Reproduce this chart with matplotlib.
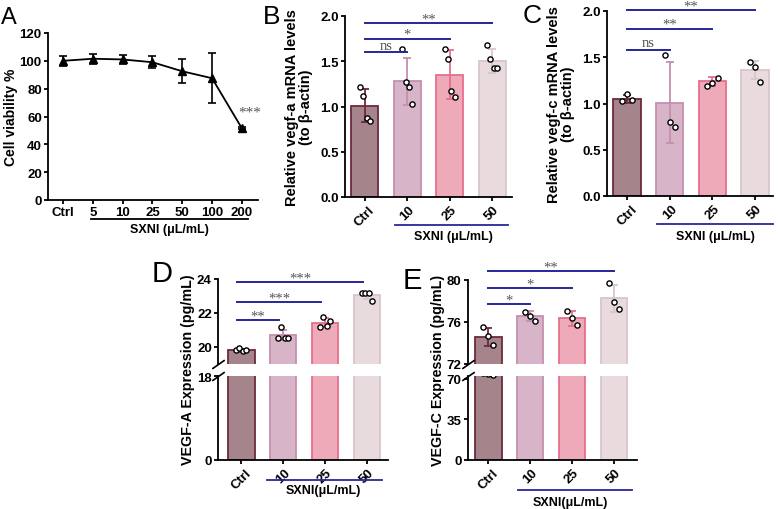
import numpy as np
import matplotlib.pyplot as plt

plt.rcParams['font.family'] = ['Liberation Sans', 'DejaVu Sans']
plt.rcParams['font.weight'] = 'bold'
plt.rcParams['axes.linewidth'] = 1.3
plt.rcParams['xtick.major.width'] = 1.3
plt.rcParams['ytick.major.width'] = 1.3
plt.rcParams['xtick.major.size'] = 3
plt.rcParams['ytick.major.size'] = 3
plt.rcParams['xtick.major.pad'] = 1.5
plt.rcParams['ytick.major.pad'] = 1.5

W, H = 778, 510

# panel A - cell viability
doses_a = ['Ctrl', '5', '10', '25', '50', '100', '200']
viability = [100, 101.5, 101, 99, 92.5, 87.5, 51.5]
viability_sd = [3.5, 3.5, 3.5, 4.5, 8.5, 18, 0.8]

groups = ['Ctrl', '10', '25', '50']

# panel B - vegf-a mRNA
vegfa_mean = [1.01, 1.28, 1.35, 1.50]
vegfa_sd = [0.18, 0.26, 0.27, 0.13]
vegfa_pts = [[1.21, 1.12, 0.87, 0.84], [1.64, 1.27, 1.22, 1.03],
             [1.64, 1.53, 1.17, 1.11], [1.68, 1.53, 1.42, 1.42]]
vegfa_sig = [(1, 'ns', 1.60), (2, '*', 1.75), (3, '**', 1.92)]

# panel C - vegf-c mRNA
vegfc_mean = [1.05, 1.01, 1.24, 1.36]
vegfc_sd = [0.04, 0.44, 0.05, 0.10]
vegfc_pts = [[1.03, 1.10, 1.04], [1.52, 0.80, 0.75],
             [1.19, 1.22, 1.28], [1.45, 1.40, 1.23]]
vegfc_sig = [(1, 'ns', 1.58), (2, '**', 1.81), (3, '**', 2.01)]

# panel D - VEGF-A protein
vega_mean = [19.8, 20.7, 21.44, 23.05]
vega_sd = [0.1, 0.3, 0.27, 0.2]
vega_pts = [[19.84, 19.92, 19.78, 19.82], [20.53, 21.2, 20.53, 20.55],
            [21.2, 21.75, 21.25, 21.55], [23.2, 23.2, 23.2, 22.7]]
vega_sig = [(1, '**', 21.6), (2, '***', 22.65), (3, '***', 23.8)]

# panel E - VEGF-C protein
vegc_mean = [74.6, 76.55, 76.35, 78.25]
vegc_sd = [0.85, 0.5, 0.7, 1.3]
vegc_pts = [[75.5, 74.7, 73.85], [77.0, 76.6, 76.05],
            [77.05, 76.35, 75.7], [79.7, 77.9, 77.25]]
vegc_sig = [(1, '*', 77.7), (2, '*', 79.2), (3, '**', 80.86)]

fills = ['#a5848b', '#d8b4c8', '#eeaab8', '#e8dadd']
edges = ['#6d2a3c', '#c48fae', '#e56f8b', '#d9c6ca']
navy = '#26269a'
star_gray = '#555555'
SERIF = ['Liberation Serif', 'DejaVu Serif']

fig = plt.figure(figsize=(W / 100, H / 100), dpi=100)


def add_axes_px(l, t, r, b):
    return fig.add_axes([l / W, 1 - b / H, (r - l) / W, (b - t) / H])


def style(ax, fs=9.5):
    ax.spines['top'].set_visible(False)
    ax.spines['right'].set_visible(False)
    ax.tick_params(labelsize=fs, direction='out')
    for lab in ax.get_yticklabels() + ax.get_xticklabels():
        lab.set_fontweight('bold')


def jitter(n):
    if n == 3:
        return [-0.12, 0.0, 0.12]
    return [-0.12, -0.04, 0.04, 0.12]


def draw_bars(ax, means, sds, pts):
    x = np.arange(len(means))
    ax.bar(x, means, width=0.64, color=fills, edgecolor=edges, linewidth=1.3, zorder=2)
    for i in range(len(means)):
        ax.errorbar(x[i], means[i], yerr=sds[i], color=edges[i], capsize=3,
                    elinewidth=1.3, capthick=1.3, zorder=3)
        ax.scatter(x[i] + np.array(jitter(len(pts[i]))), pts[i], s=14, facecolor='white',
                   edgecolor='black', linewidth=1.0, zorder=4)


def draw_sig(ax, sig, x0=0.0, fs=10.5):
    for j, lab, y in sig:
        ax.plot([x0, j + x0], [y, y], color=navy, lw=1.4, clip_on=False, zorder=5)
        dy = 2.5 if lab == 'ns' else 0.5
        ax.annotate(lab, (j / 2 + x0, y), xytext=(0, dy), textcoords='offset points',
                    ha='center', va='baseline', color=star_gray, family=SERIF,
                    fontweight='normal', fontsize=fs, annotation_clip=False)


def group_label(ax, x0, x1, y, xt, yt, text, color=navy, fs=9):
    tr = ax.get_xaxis_transform()
    ax.plot([x0, x1], [y, y], color=color, lw=1.3, transform=tr, clip_on=False)
    ax.text(xt, yt, text, transform=tr, ha='center', va='center',
            fontsize=fs, fontweight='bold')


# ---- A ----
axA = add_axes_px(48, 34, 258, 201)
xa = np.arange(len(doses_a))
axA.errorbar(xa, viability, yerr=viability_sd, color='black', marker='^', ms=6,
             lw=1.3, capsize=3, elinewidth=1.2, capthick=1.2)
axA.set_xlim(-0.5, 6.54)
axA.set_ylim(0, 120)
axA.set_yticks(range(0, 121, 20))
axA.set_xticks(xa)
axA.set_xticklabels(doses_a)
axA.set_ylabel('Cell viability %', fontsize=10, fontweight='bold', labelpad=1)
axA.text(6.25, 63, '***', ha='center', va='center', color=star_gray,
         family=SERIF, fontweight='normal', fontsize=11, clip_on=False)
style(axA)
group_label(axA, 0.94, 6.2, -0.114, 3.57, -0.175, 'SXNI (\u03bcL/mL)', color='black')

# ---- B ----
axB = add_axes_px(345, 17, 512, 198)
draw_bars(axB, vegfa_mean, vegfa_sd, vegfa_pts)
draw_sig(axB, vegfa_sig)
axB.set_xlim(-0.47, 3.47)
axB.set_ylim(0, 2.0)
axB.set_yticks([0, 0.5, 1.0, 1.5, 2.0])
axB.set_yticklabels(['0.0', '0.5', '1.0', '1.5', '2.0'])
axB.set_xticks(range(4))
axB.set_xticklabels(groups, rotation=45)
axB.set_ylabel('Relative vegf-a mRNA levels\n(to \u03b2-actin)', fontsize=10.5,
               fontweight='bold', linespacing=1.0, labelpad=5)
style(axB)
group_label(axB, 0.71, 3.38, -0.155, 2.08, -0.215, 'SXNI (\u03bcL/mL)')

# ---- C ----
axC = add_axes_px(607, 12, 773, 197)
draw_bars(axC, vegfc_mean, vegfc_sd, vegfc_pts)
draw_sig(axC, vegfc_sig)
axC.set_xlim(-0.47, 3.42)
axC.set_ylim(0, 2.0)
axC.set_yticks([0, 0.5, 1.0, 1.5, 2.0])
axC.set_yticklabels(['0.0', '0.5', '1.0', '1.5', '2.0'])
axC.set_xticks(range(4))
axC.set_xticklabels(groups, rotation=45)
axC.set_ylabel('Relative vegf-c mRNA levels\n(to \u03b2-actin)', fontsize=10.5,
               fontweight='bold', linespacing=1.0, labelpad=5)
style(axC)
group_label(axC, 0.70, 3.42, -0.151, 2.06, -0.216, 'SXNI (\u03bcL/mL)')


# ---- broken-axis panels D and E ----
def broken_panel(l, r, top_t, top_b, bot_t, bot_b, top_lim, bot_lim, top_ticks, bot_ticks,
                 means, sds, pts, sig, xlim, sig_x0=0.0):
    axt = add_axes_px(l, top_t, r, top_b)
    axb = add_axes_px(l, bot_t, r, bot_b)
    for ax in (axt, axb):
        draw_bars(ax, means, sds, pts)
        ax.set_xlim(*xlim)
    axt.set_ylim(*top_lim)
    axb.set_ylim(*bot_lim)
    axt.set_yticks(top_ticks)
    axb.set_yticks(bot_ticks)
    axt.spines['bottom'].set_visible(False)
    axt.set_xticks([])
    axb.set_xticks(range(4))
    axb.set_xticklabels(groups, rotation=45)
    for ax in (axt, axb):
        style(ax, fs=9.5)
    draw_sig(axt, sig, x0=sig_x0)
    kw = dict(marker=[(-1, -0.7), (1, 0.7)], markersize=9, linestyle='none',
              color='k', mec='k', mew=1.2, clip_on=False)
    axt.plot([0], [0], transform=axt.transAxes, **kw)
    axb.plot([0], [1], transform=axb.transAxes, **kw)
    return axt, axb


axDt, axDb = broken_panel(218, 388, 280, 365, 377, 461, (19.0, 24.0), (0, 18),
                          [20, 22, 24], [0, 18], vega_mean, vega_sd, vega_pts, vega_sig,
                          (-0.55, 3.5), sig_x0=-0.1)
group_label(axDb, 0.62, 3.36, -0.238, 1.95, -0.36, 'SXNI(\u03bcL/mL)')
fig.text(188 / W, 1 - 370 / H, 'VEGF-A Expression (pg/mL)', rotation=90, ha='center',
         va='center', fontsize=10.3, fontweight='bold')

axEt, axEb = broken_panel(468, 637, 281, 365, 376.5, 461, (72, 80), (0, 73),
                          [72, 76, 80], [0, 35, 70], vegc_mean, vegc_sd, vegc_pts, vegc_sig,
                          (-0.48, 3.55))
group_label(axEb, 0.71, 3.43, -0.355, 1.95, -0.50, 'SXNI(\u03bcL/mL)')
fig.text(438 / W, 1 - 370 / H, 'VEGF-C Expression (pg/mL)', rotation=90, ha='center',
         va='center', fontsize=10.3, fontweight='bold')

# panel letters
for lab, x, y, fs in [('A', 9, 18, 17), ('B', 272, 17, 19), ('C', 532, 16, 19),
                      ('D', 162, 274, 21), ('E', 412, 281, 21)]:
    fig.text(x / W, 1 - y / H, lab, ha='center', va='center', fontsize=fs,
             fontweight='normal')

fig.savefig('out.png', dpi=100)
